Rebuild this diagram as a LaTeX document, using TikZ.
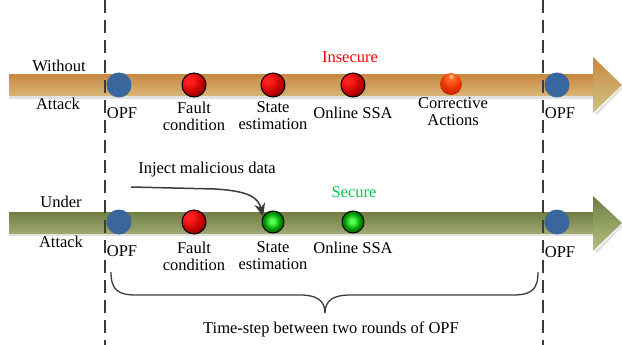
\documentclass[tikz,border=0pt]{standalone}
\usepackage{fontspec}
\setmainfont{Liberation Serif}
\usetikzlibrary{arrows.meta}

% colours
\definecolor{opfblue}{RGB}{58,102,158}
\definecolor{rbA}{RGB}{255,30,30}
\definecolor{rbB}{RGB}{190,0,0}
\definecolor{rbC}{RGB}{80,0,0}
\definecolor{gbA}{RGB}{80,255,80}
\definecolor{gbB}{RGB}{0,150,0}
\definecolor{gbC}{RGB}{0,45,0}
\definecolor{obA}{RGB}{255,225,205}
\definecolor{obB}{RGB}{255,110,40}
\definecolor{obC}{RGB}{235,50,0}
\definecolor{obD}{RGB}{170,25,0}
\definecolor{tanTop}{RGB}{200,137,66}
\definecolor{tanBot}{RGB}{216,182,122}
\definecolor{tanHeadBot}{RGB}{208,196,132}
\definecolor{oliveTop}{RGB}{112,126,68}
\definecolor{oliveBot}{RGB}{158,168,112}
\definecolor{oliveHeadBot}{RGB}{178,192,130}
\definecolor{shadowgrey}{RGB}{225,225,225}
\definecolor{linegrey}{RGB}{60,60,60}
\definecolor{insecred}{RGB}{255,0,0}
\definecolor{secgreen}{RGB}{0,200,80}

% 3-D looking balls
\pgfdeclareradialshading{redballshade}{\pgfpoint{-12bp}{12bp}}{%
  color(0bp)=(rbA); color(8bp)=(rbA); color(26bp)=(rbB); color(44bp)=(rbC); color(100bp)=(rbC)}
\pgfdeclareradialshading{greenballshade}{\pgfpoint{-2bp}{2bp}}{%
  color(0bp)=(gbA); color(5bp)=(gbA); color(18bp)=(gbB); color(36bp)=(gbC); color(100bp)=(gbC)}
\pgfdeclareradialshading{orangeballshade}{\pgfpoint{0bp}{18bp}}{%
  color(0bp)=(obA); color(6bp)=(obB); color(24bp)=(obC); color(44bp)=(obD); color(100bp)=(obD)}

\tikzset{
  opfdot/.style={circle, fill=opfblue, minimum size=25pt, inner sep=0pt},
  redball/.style={circle, draw=black, line width=1pt, shading=redballshade, minimum size=24pt, inner sep=0pt},
  greenball/.style={circle, draw=black, line width=1pt, shading=greenballshade, minimum size=22pt, inner sep=0pt},
  orangeball/.style={circle, shading=orangeballshade, minimum size=22pt, inner sep=0pt},
  lbl/.style={font=\fontsize{16.5}{17}\selectfont, inner sep=0pt, align=center},
  divider/.style={linegrey, line width=1.1pt, dash pattern=on 13pt off 7pt},
  injarrow/.style={linegrey, line width=1.5pt, -{Stealth[length=13pt,width=11pt]}},
  bracepath/.style={linegrey, line width=1.3pt},
}

\begin{document}
\begin{tikzpicture}[x=1pt, y=-1pt]
\useasboundingbox (0,0) rectangle (622,345);

% ---- timeline without attack ----
\fill[shadowgrey] (9,96) rectangle (595,99);
\fill[shadowgrey] (595,113) -- (622,86) -- (622,89) -- (597,115) -- cycle;
\shade[top color=tanTop, bottom color=tanBot] (9,75) rectangle (595,96);
\shade[top color=tanTop, bottom color=tanHeadBot] (593,57) -- (622,85) -- (593,113) -- cycle;

% ---- timeline under attack ----
\fill[shadowgrey] (9,233) rectangle (595,236);
\fill[shadowgrey] (595,251) -- (622,224) -- (622,227) -- (597,253) -- cycle;
\shade[top color=oliveTop, bottom color=oliveBot] (9,212) rectangle (595,233);
\shade[top color=oliveTop, bottom color=oliveHeadBot] (593,196) -- (622,223) -- (593,251) -- cycle;

% ---- dashed dividers between OPF rounds ----
\coordinate (dlt) at (105,0);
\coordinate (dlb) at (105,345);
\coordinate (drt) at (543,0);
\coordinate (drb) at (543,345);
\draw[divider] (dlt) -- (dlb);
\draw[divider] (drt) -- (drb);

% ---- row labels ----
\node[lbl] (wo1) at (59,66) {Without};
\node[lbl] (wo2) at (58,104) {Attack};
\node[lbl] (ua1) at (61,202) {Under};
\node[lbl] (ua2) at (61,242) {Attack};

% ---- events without attack ----
\node[opfdot] (opf1) at (119,85) {};
\node[redball] (fc1) at (194,85) {};
\node[redball] (se1) at (273,85) {};
\node[redball] (ssa1) at (353,85) {};
\node[orangeball] (ca1) at (451,84) {};
\node[opfdot] (opf2) at (557,85) {};

\node[lbl] (opf1l) at (122,113) {OPF};
\node[lbl] (fc1l) at (194,116) {Fault\\condition};
\node[lbl] (se1l) at (273,116) {State\\estimation};
\node[lbl] (ssa1l) at (353,113) {Online SSA};
\node[lbl] (ca1l) at (453,112) {Corrective\\Actions};
\node[lbl] (opf2l) at (560,113) {OPF};
\node[lbl, text=insecred] (insec) at (350,57) {Insecure};

% ---- events under attack ----
\node[opfdot] (opf3) at (119,222) {};
\node[redball] (fc2) at (194,222) {};
\node[greenball] (se2) at (273,222) {};
\node[greenball] (ssa2) at (353,222) {};
\node[opfdot] (opf4) at (557,222) {};

\node[lbl] (opf3l) at (122,251) {OPF};
\node[lbl] (fc2l) at (194,256) {Fault\\condition};
\node[lbl] (se2l) at (273,256) {State\\estimation};
\node[lbl] (ssa2l) at (353,248) {Online SSA};
\node[lbl] (opf4l) at (560,252) {OPF};
\node[lbl, text=secgreen] (sec) at (354,192) {Secure};

% ---- malicious data injection ----
\node[lbl] (inj) at (207,170) {Inject malicious data};
\coordinate (injsrc) at (131,187);
\draw[injarrow] (injsrc) -- (215,189) .. controls (248,191) and (258,197) .. (se2.150);

% ---- brace spanning one time-step ----
\coordinate (brl) at (111,272);
\coordinate (brr) at (538,272);
\coordinate (brtip) at (325,313);
\draw[bracepath] (brl) .. controls (111,290) and (118,295) .. (136,295)
  -- (300,295) .. controls (316,295) and (325,300) .. (brtip);
\draw[bracepath] (brr) .. controls (538,290) and (531,295) .. (513,295)
  -- (350,295) .. controls (334,295) and (325,300) .. (brtip);
\node[lbl] (tslbl) at (331,329) {Time-step between two rounds of OPF};
\end{tikzpicture}
\end{document}
